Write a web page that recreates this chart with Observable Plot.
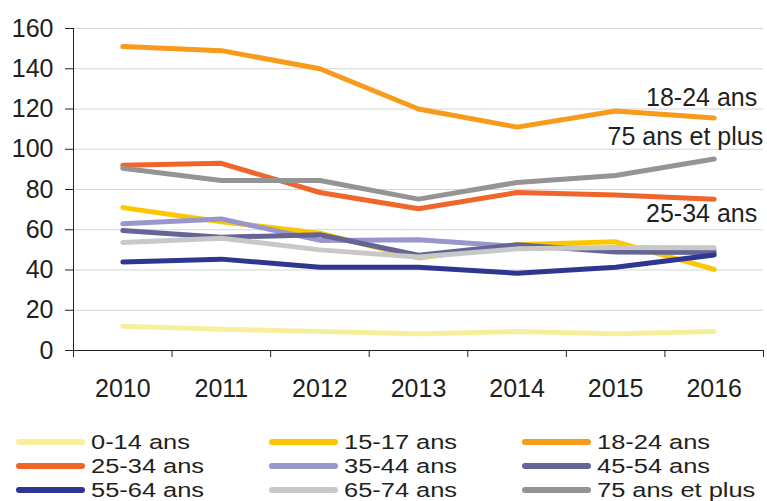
<!DOCTYPE html>
<html>
<head>
<meta charset="utf-8">
<script src="https://cdn.jsdelivr.net/npm/d3@7"></script>
<script src="https://cdn.jsdelivr.net/npm/@observablehq/plot@0.6"></script>
<style>
  html, body { margin: 0; padding: 0; background: #fff; }
  #wrap { position: relative; width: 767px; height: 501px; overflow: hidden; font-family: "Liberation Sans", Arial, sans-serif; color: #231f20; }
  #chart svg { display: block; }
  .leg { position: absolute; display: flex; align-items: center; height: 24px; }
  .sw { width: 69px; height: 6px; border-radius: 3px; margin-right: 6px; }
  .lt { font-size: 20.5px; line-height: 24px; display: inline-block; transform: scaleX(1.24); transform-origin: left center; white-space: nowrap; }
</style>
</head>
<body>
<div id="wrap">
  <div id="chart"></div>
  <div id="legend"></div>
</div>
<script>
const years = [2010, 2011, 2012, 2013, 2014, 2015, 2016];
const seriesNames = ["0-14 ans", "15-17 ans", "18-24 ans", "25-34 ans", "35-44 ans", "45-54 ans", "55-64 ans", "65-74 ans", "75 ans et plus"];
const colors = ["#f6f09c", "#fdc700", "#f89a1c", "#f0652a", "#9896cb", "#646596", "#2f368f", "#c8c8c8", "#949494"];
const v0_14  = [12, 10.6, 9.4, 8.3, 9.4, 8.3, 9.4];
const v15_17 = [71, 64, 58.3, 46, 52.5, 54, 40.3];
const v18_24 = [151, 149, 140, 120, 111, 119, 115.5];
const v25_34 = [92, 93, 78.5, 70.4, 78.5, 77.3, 75.2];
const v35_44 = [63, 65.4, 54.7, 55, 51.7, 50.3, 49.8];
const v45_54 = [59.6, 56.3, 57.5, 47.3, 52.5, 49, 48.7];
const v55_64 = [44, 45.4, 41.4, 41.4, 38.4, 41.4, 47.5];
const v65_74 = [53.7, 55.8, 50, 46.5, 50.5, 51.2, 51];
const v75    = [90.6, 84.5, 84.5, 75.2, 83.5, 87, 95.2];
const allValues = [v0_14, v15_17, v18_24, v25_34, v35_44, v45_54, v55_64, v65_74, v75];
const yTicks = [0, 20, 40, 60, 80, 100, 120, 140, 160];
// direct labels: [series, dx, dy]
const directLabels = [["18-24 ans", 43, -20], ["75 ans et plus", 49, -22], ["25-34 ans", 43, 15]];

const rows = [];
seriesNames.forEach((s, i) => years.forEach((y, j) => rows.push({series: s, year: y, value: allValues[i][j]})));
const bounds = d3.range(years.length + 1).map(i => years[0] - 0.5 + i);

const labelMarks = directLabels.map(([s, dx, dy]) =>
  Plot.text(rows.filter(d => d.series === s && d.year === years[years.length - 1]), {
    x: "year", y: "value", text: "series", dx, dy, textAnchor: "end", lineAnchor: "middle",
    fontSize: 25, fill: "#231f20"
  })
);

const chart = Plot.plot({
  width: 767,
  height: 410,
  marginLeft: 73,
  marginRight: 4,
  marginTop: 28,
  marginBottom: 60,
  style: {fontFamily: "'Liberation Sans', Arial, sans-serif", fontSize: "25px", color: "#231f20", background: "#fff"},
  x: {domain: [bounds[0], bounds[bounds.length - 1]]},
  y: {domain: [0, 160]},
  color: {domain: seriesNames, range: colors},
  marks: [
    Plot.ruleY(yTicks.filter(t => t > 0), {stroke: "#d6d6d6", strokeWidth: 1.2}),
    Plot.axisY({ticks: yTicks, tickSize: 8, tickPadding: 12, fontSize: 25, stroke: "#231f20", label: null}),
    Plot.axisX({ticks: bounds, tickSize: 7, tickFormat: () => "", stroke: "#231f20", label: null}),
    Plot.axisX({ticks: years, tickSize: 0, tickPadding: 29, tickFormat: d => String(d), fontSize: 25, label: null}),
    Plot.ruleX([bounds[0]], {stroke: "#231f20", strokeWidth: 1}),
    Plot.ruleY([0], {stroke: "#231f20", strokeWidth: 1}),
    Plot.line(rows, {x: "year", y: "value", z: "series", stroke: "series", strokeWidth: 5, strokeLinejoin: "round"}),
    ...labelMarks
  ]
});
document.getElementById("chart").appendChild(chart);

// legend
const leg = document.getElementById("legend");
const colLeft = [16, 269, 522];
const rowTop = [429.5, 453.5, 477.5];
seriesNames.forEach((s, i) => {
  const item = document.createElement("div");
  item.className = "leg";
  item.style.left = colLeft[i % 3] + "px";
  item.style.top = rowTop[Math.floor(i / 3)] + "px";
  const sw = document.createElement("div");
  sw.className = "sw";
  sw.style.background = colors[i];
  const t = document.createElement("span");
  t.className = "lt";
  t.textContent = s;
  item.appendChild(sw);
  item.appendChild(t);
  leg.appendChild(item);
});
</script>
</body>
</html>
